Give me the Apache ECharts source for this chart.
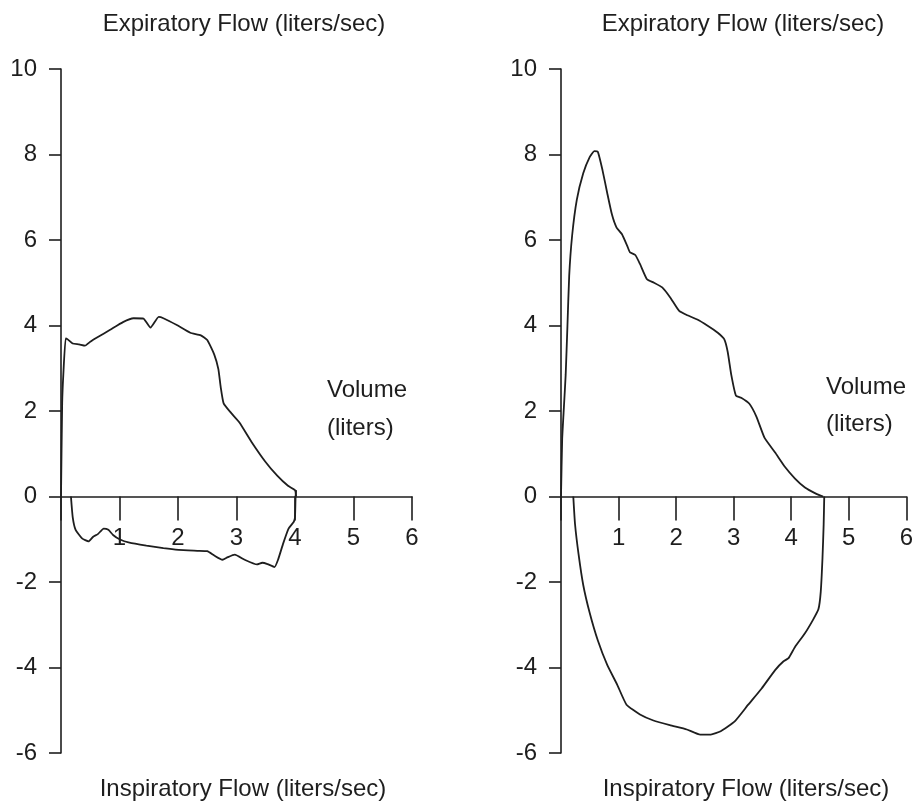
<!DOCTYPE html>
<html>
<head>
<meta charset="utf-8">
<script src="https://cdn.jsdelivr.net/npm/echarts@6/dist/echarts.min.js"></script>
<style>
html,body{margin:0;padding:0;background:#fff;}
#chart{width:916px;height:808px;}
</style>
</head>
<body>
<div id="chart"></div>
<script>
// ---- Data ----
const volumeTicks = [0, 1, 2, 3, 4, 5, 6];
const flowTicks = [-6, -4, -2, 0, 2, 4, 6, 8, 10];

const topTitle = "Expiratory Flow (liters/sec)";
const bottomTitle = "Inspiratory Flow (liters/sec)";
const volumeLabel = ["Volume", "(liters)"];

// Left panel: expiratory limb
const leftExpVolume = [0, 0.02, 0.04, 0.08, 0.12, 0.20, 0.31, 0.41, 0.50, 0.63, 0.84, 1.06, 1.24, 1.41, 1.53, 1.67, 1.75, 1.98, 2.21, 2.39, 2.50, 2.62, 2.69, 2.73, 2.78, 2.91, 3.05, 3.26, 3.49, 3.70, 3.88, 4.00, 4.02];
const leftExpFlow   = [0, 2.18, 2.86, 3.70, 3.67, 3.58, 3.56, 3.53, 3.62, 3.73, 3.90, 4.08, 4.17, 4.16, 3.95, 4.20, 4.17, 4.01, 3.83, 3.77, 3.66, 3.32, 2.98, 2.56, 2.18, 1.95, 1.73, 1.27, 0.82, 0.48, 0.25, 0.15, 0];

// Left panel: inspiratory limb
const leftInspVolume = [0.17, 0.20, 0.25, 0.36, 0.47, 0.55, 0.63, 0.73, 0.81, 0.89, 1.00, 1.17, 1.46, 1.75, 2.01, 2.33, 2.50, 2.62, 2.76, 2.85, 2.97, 3.14, 3.35, 3.44, 3.53, 3.65, 3.71, 3.80, 3.89, 3.98, 4.00, 4.01, 4.02];
const leftInspFlow   = [0, -0.48, -0.78, -0.98, -1.05, -0.94, -0.88, -0.75, -0.78, -0.90, -1.00, -1.08, -1.15, -1.21, -1.25, -1.27, -1.28, -1.38, -1.48, -1.42, -1.36, -1.48, -1.59, -1.55, -1.58, -1.65, -1.48, -1.09, -0.75, -0.59, -0.48, 0, 0.15];

// Right panel: expiratory limb
const rightExpVolume = [0, 0.02, 0.05, 0.08, 0.11, 0.14, 0.19, 0.27, 0.38, 0.49, 0.57, 0.63, 0.71, 0.79, 0.87, 0.95, 1.04, 1.13, 1.18, 1.27, 1.35, 1.47, 1.59, 1.73, 1.87, 2.02, 2.16, 2.33, 2.50, 2.68, 2.79, 2.85, 2.91, 2.99, 3.08, 3.22, 3.34, 3.48, 3.66, 3.83, 4.00, 4.17, 4.34, 4.48];
const rightExpFlow   = [0, 1.34, 2.10, 2.85, 3.99, 5.16, 6.10, 6.94, 7.56, 7.94, 8.08, 8.06, 7.63, 7.10, 6.60, 6.29, 6.14, 5.87, 5.71, 5.65, 5.44, 5.08, 5.00, 4.89, 4.65, 4.34, 4.24, 4.14, 4.00, 3.83, 3.68, 3.38, 2.85, 2.36, 2.31, 2.17, 1.87, 1.37, 1.03, 0.69, 0.42, 0.21, 0.08, 0];

// Right panel: inspiratory limb
const rightInspVolume = [0.21, 0.24, 0.30, 0.38, 0.49, 0.63, 0.79, 0.96, 1.12, 1.35, 1.58, 1.86, 2.15, 2.38, 2.56, 2.73, 2.97, 3.20, 3.43, 3.66, 3.80, 3.89, 4.00, 4.17, 4.31, 4.40, 4.44, 4.47, 4.49, 4.50];
const rightInspFlow   = [0, -0.65, -1.35, -2.07, -2.72, -3.37, -3.94, -4.40, -4.87, -5.10, -5.24, -5.35, -5.45, -5.57, -5.57, -5.49, -5.26, -4.87, -4.49, -4.06, -3.86, -3.78, -3.52, -3.20, -2.88, -2.64, -2.23, -1.44, -0.65, 0];

// ---- Chart ----
const zip = (a, b) => a.map((v, i) => [v, b[i]]);
const FONT = '"Liberation Sans", Arial, sans-serif';
const INK = '#1e1e1e';
const TXT = 24;

const chart = echarts.init(document.getElementById('chart'), null, {renderer: 'canvas'});

const yMin = flowTicks[0], yMax = flowTicks[flowTicks.length - 1];
const plotTop = 69, plotH = 684;
const upperH = plotH * (yMax - 0) / (yMax - yMin); // part of plot above flow = 0

// main x axes (hidden; only carry the scale for the curves)
function xAxisMain(gi) {
  return {
    gridIndex: gi, type: 'value', show: false,
    min: volumeTicks[0], max: volumeTicks[volumeTicks.length - 1], interval: 1,
    splitLine: {show: false}
  };
}
// visible x axes sitting on flow = 0 (same volume scale, in companion grids)
function xAxisZero(gi) {
  return {
    gridIndex: gi, type: 'value', position: 'bottom',
    min: volumeTicks[0], max: volumeTicks[volumeTicks.length - 1], interval: 1,
    axisLine: {show: true, onZero: false, lineStyle: {color: INK, width: 1.6}},
    axisTick: {show: true, length: 24, lineStyle: {color: INK, width: 1.6}},
    axisLabel: {show: true, margin: 30, fontSize: TXT, color: INK, fontFamily: FONT,
      formatter: v => (v === 0 ? '' : String(v))},
    splitLine: {show: false}
  };
}
function yAxisMain(gi) {
  return {
    gridIndex: gi, type: 'value',
    min: yMin, max: yMax, interval: 2,
    axisLine: {show: true, onZero: false, lineStyle: {color: INK, width: 1.6}},
    axisTick: {show: true, length: 12, lineStyle: {color: INK, width: 1.6}},
    axisLabel: {show: true, margin: 24, fontSize: TXT, color: INK, fontFamily: FONT},
    splitLine: {show: false}
  };
}
function yAxisHidden(gi) {
  return {gridIndex: gi, type: 'value', show: false, min: 0, max: yMax, splitLine: {show: false}};
}
function curve(gi, xs, ys) {
  return {
    type: 'line', xAxisIndex: gi, yAxisIndex: gi,
    data: zip(xs, ys), showSymbol: false, smooth: 0.15,
    lineStyle: {color: INK, width: 1.8}, silent: true, z: 3
  };
}
function label(x, y, s, align) {
  return {type: 'text', x: x, y: y,
    style: {text: s, fontSize: TXT, fontFamily: FONT, fill: INK, align: align, verticalAlign: 'middle'}};
}

chart.setOption({
  animation: false,
  backgroundColor: '#ffffff',
  grid: [
    {left: 61, top: plotTop, width: 351, height: plotH},
    {left: 561, top: plotTop, width: 351, height: plotH},
    {left: 61, top: plotTop, width: 351, height: upperH},
    {left: 561, top: plotTop, width: 351, height: upperH}
  ],
  xAxis: [xAxisMain(0), xAxisMain(1), xAxisZero(2), xAxisZero(3)],
  yAxis: [yAxisMain(0), yAxisMain(1), yAxisHidden(2), yAxisHidden(3)],
  series: [
    curve(0, leftExpVolume, leftExpFlow),
    curve(0, leftInspVolume, leftInspFlow),
    curve(1, rightExpVolume, rightExpFlow),
    curve(1, rightInspVolume, rightInspFlow)
  ],
  graphic: [
    label(244, 24, topTitle, 'center'),
    label(743, 24, topTitle, 'center'),
    label(243, 789, bottomTitle, 'center'),
    label(746, 789, bottomTitle, 'center'),
    label(327, 390, volumeLabel[0], 'left'),
    label(327, 428, volumeLabel[1], 'left'),
    label(826, 387, volumeLabel[0], 'left'),
    label(826, 424, volumeLabel[1], 'left')
  ]
});
</script>
</body>
</html>
